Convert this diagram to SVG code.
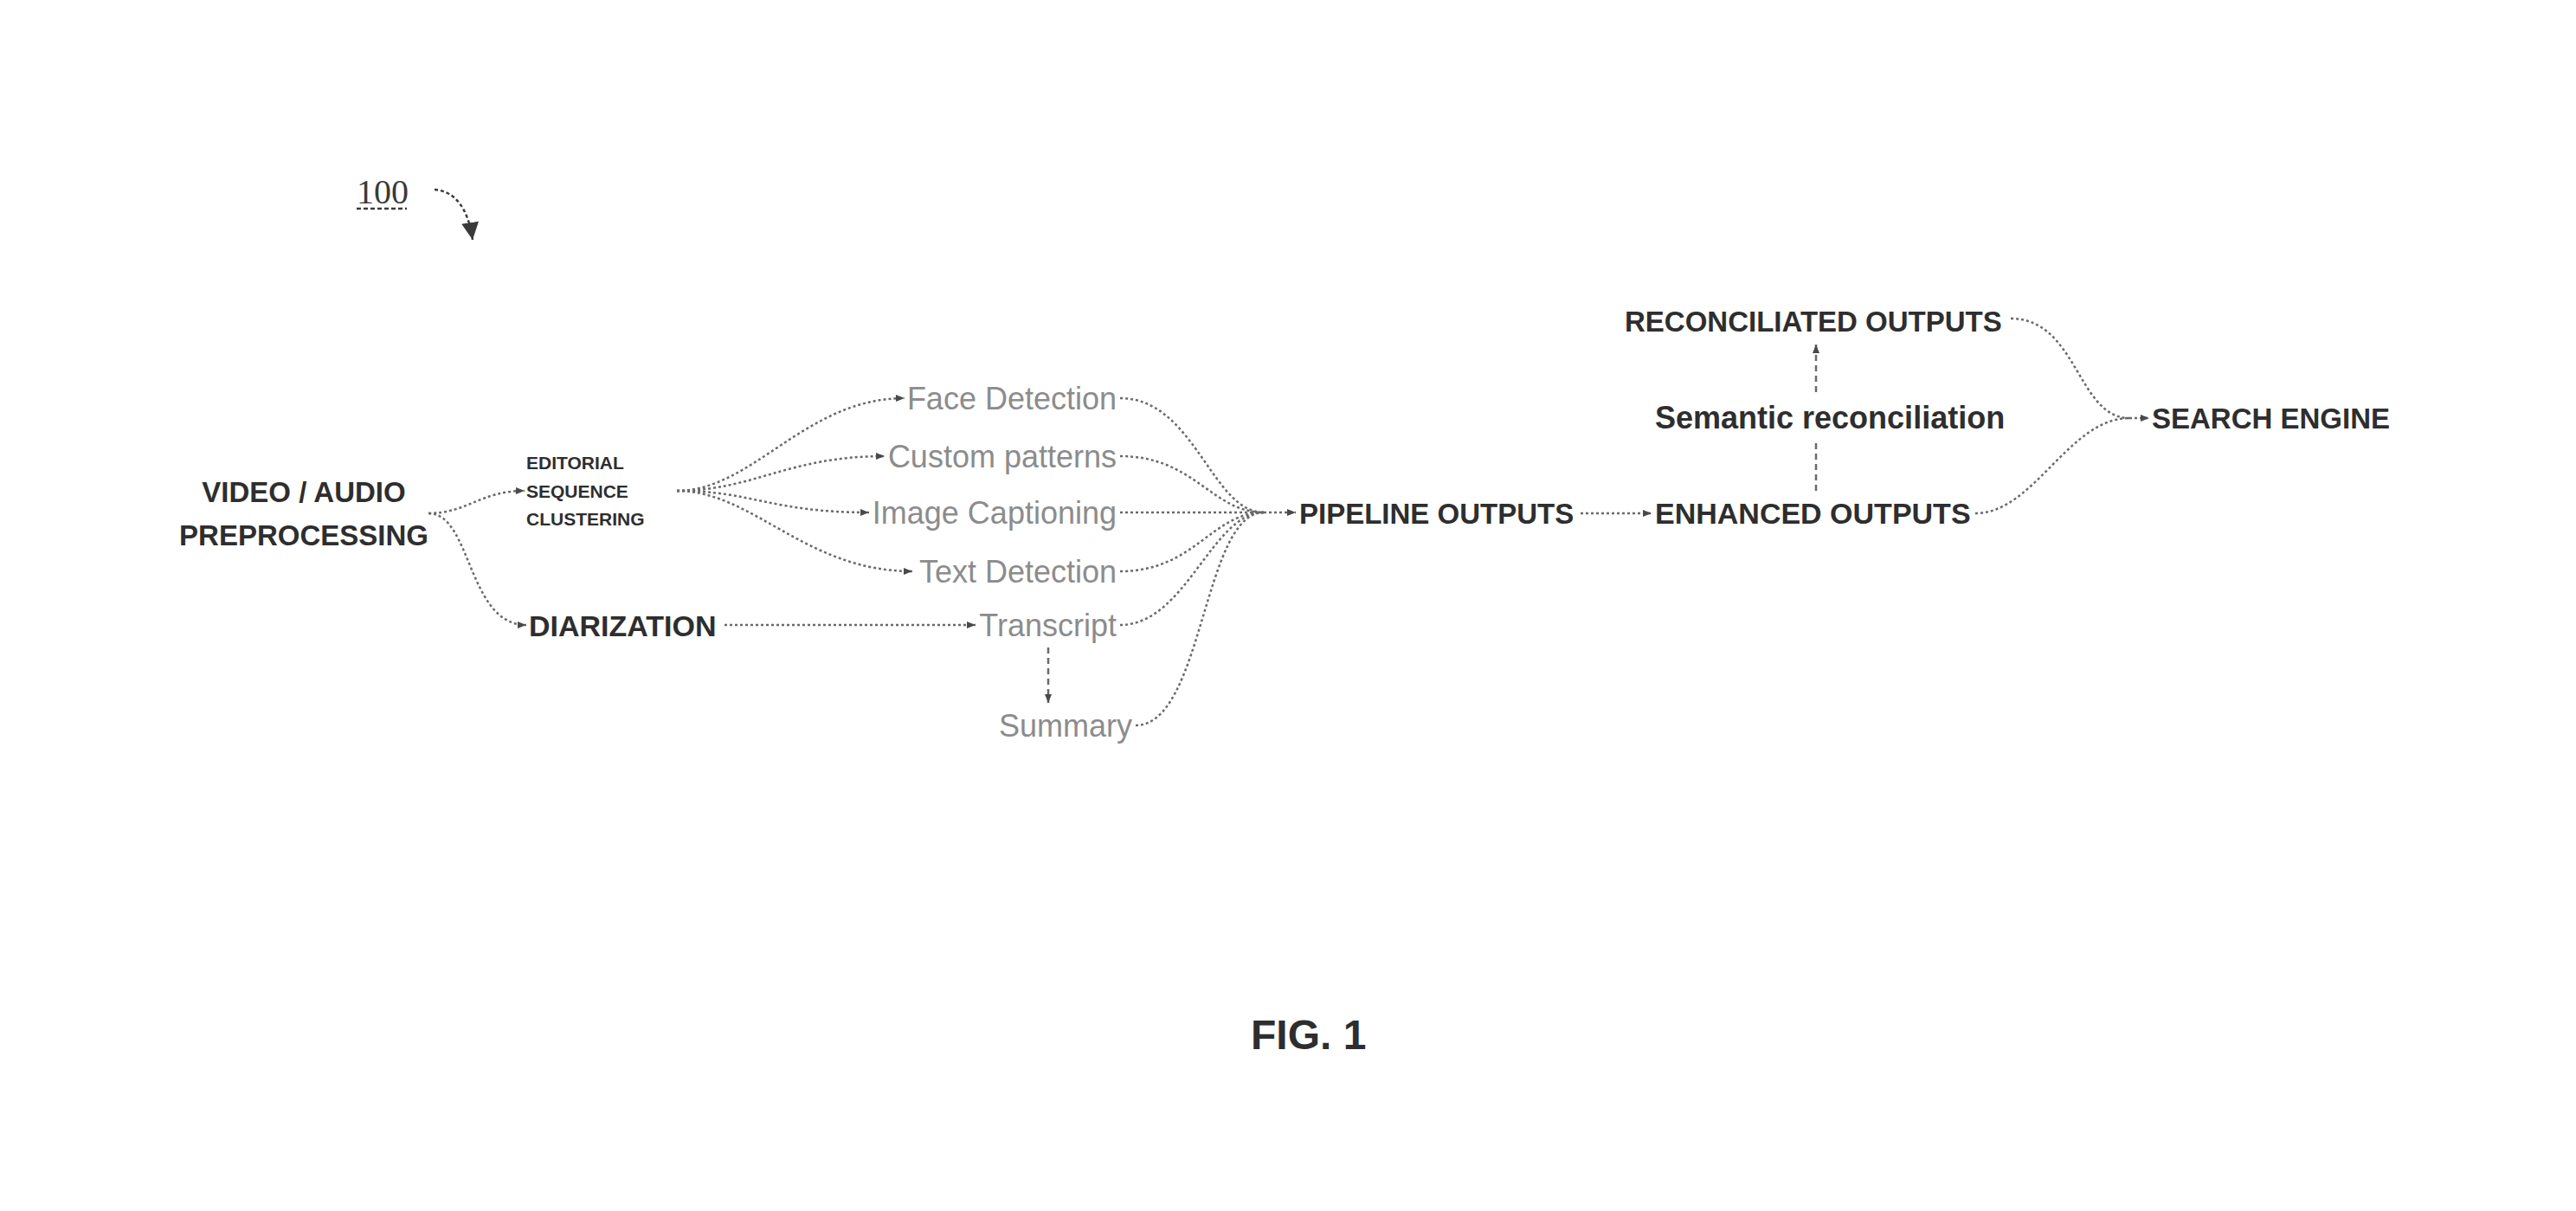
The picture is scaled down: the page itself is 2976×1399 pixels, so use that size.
<svg xmlns="http://www.w3.org/2000/svg" width="2976" height="1399" viewBox="0 0 2976 1399">
<style>
.b{font-family:"Liberation Sans",Arial,sans-serif;font-weight:bold;fill:#2e2e2e}
.l{font-family:"Liberation Sans",Arial,sans-serif;font-size:36px;fill:#8c8c8c;text-anchor:end}
.c{fill:none;stroke:#6a6a6a;stroke-width:2.5;stroke-dasharray:3 3}
.d{fill:none;stroke:#6a6a6a;stroke-width:2.5;stroke-dasharray:7 5}
.a{marker-end:url(#ah)}
</style>
<defs>
<marker id="ah" markerUnits="userSpaceOnUse" markerWidth="12" markerHeight="10" refX="10" refY="4" orient="auto">
<path d="M0,0 L10,4 L0,8 z" fill="#4a4a4a"/>
</marker>
<marker id="big" markerUnits="userSpaceOnUse" markerWidth="24" markerHeight="24" refX="20" refY="10" orient="auto">
<path d="M0,0 L20,10 L0,20 z" fill="#3a3a3a"/>
</marker>
</defs>
<rect width="2976" height="1399" fill="#ffffff"/>

<g id="ref100">
<text x="412" y="235" font-family="Liberation Serif,Times New Roman,serif" font-size="40" fill="#3a3a3a">100</text>
<line x1="412" y1="241" x2="470" y2="241" stroke="#3a3a3a" stroke-width="2.5" stroke-dasharray="5 3"/>
<path d="M502,219 Q538,222 546,277" fill="none" stroke="#3a3a3a" stroke-width="2.5" stroke-dasharray="4 3" marker-end="url(#big)"/>
</g>

<g id="connectors">
<path class="c a" d="M495,593 C540,593 555,567 606,567"/>
<path class="c a" d="M495,593 C545,593 540,722 608,722"/>
<path class="c a" d="M782,567 C870,567 930,460 1045,460"/>
<path class="c a" d="M782,567 C870,567 910,527 1022,527"/>
<path class="c a" d="M782,567 C870,567 890,592 1004,592"/>
<path class="c a" d="M782,567 C870,567 930,660 1054,660"/>
<path class="c a" d="M837,722 L1127,722"/>
<path class="d a" d="M1211,748 L1211,812"/>
<path class="c" d="M1294,460 C1380,460 1400,592 1460,592"/>
<path class="c" d="M1294,527 C1380,527 1400,592 1460,592"/>
<path class="c" d="M1294,592 L1460,592"/>
<path class="c" d="M1294,660 C1380,660 1400,592 1460,592"/>
<path class="c" d="M1294,722 C1370,722 1400,592 1460,592"/>
<path class="c" d="M1312,838 C1390,838 1390,592 1460,592"/>
<path class="c a" d="M1460,592 L1497,592"/>
<path class="c a" d="M1826,593 L1908,593"/>
<path class="d" d="M2098,567 L2098,507"/>
<path class="d a" d="M2098,453 L2098,398"/>
<path class="c" d="M2282,593 C2350,593 2390,483 2460,483"/>
<path class="c" d="M2323,368 C2400,368 2400,483 2460,483"/>
<path class="c a" d="M2460,483 L2483,483"/>
</g>

<g id="video-audio-preprocessing">
<text class="b" font-size="33" x="351" y="580" text-anchor="middle">VIDEO / AUDIO</text>
<text class="b" font-size="33" x="351" y="630" text-anchor="middle">PREPROCESSING</text>
</g>
<g id="editorial-sequence-clustering">
<text class="b" font-size="21" x="608" y="542">EDITORIAL</text>
<text class="b" font-size="21" x="608" y="575">SEQUENCE</text>
<text class="b" font-size="21" x="608" y="607">CLUSTERING</text>
</g>
<g id="diarization"><text class="b" font-size="34" x="611" y="735">DIARIZATION</text></g>
<g id="face-detection"><text class="l" x="1290" y="473">Face Detection</text></g>
<g id="custom-patterns"><text class="l" x="1290" y="540">Custom patterns</text></g>
<g id="image-captioning"><text class="l" x="1290" y="605">Image Captioning</text></g>
<g id="text-detection"><text class="l" x="1290" y="673">Text Detection</text></g>
<g id="transcript"><text class="l" x="1290" y="735">Transcript</text></g>
<g id="summary"><text class="l" x="1308" y="851">Summary</text></g>
<g id="pipeline-outputs"><text class="b" font-size="33" x="1501" y="605">PIPELINE OUTPUTS</text></g>
<g id="enhanced-outputs"><text class="b" font-size="34" x="1912" y="605">ENHANCED OUTPUTS</text></g>
<g id="semantic-reconciliation"><text class="b" font-size="36" x="1912" y="495" fill="#3a3a3a">Semantic reconciliation</text></g>
<g id="reconciliated-outputs"><text class="b" font-size="33" x="1877" y="383">RECONCILIATED OUTPUTS</text></g>
<g id="search-engine"><text class="b" font-size="33" x="2486" y="495">SEARCH ENGINE</text></g>
<g id="fig-label"><text class="b" font-size="48" x="1445" y="1212">FIG. 1</text></g>
</svg>
